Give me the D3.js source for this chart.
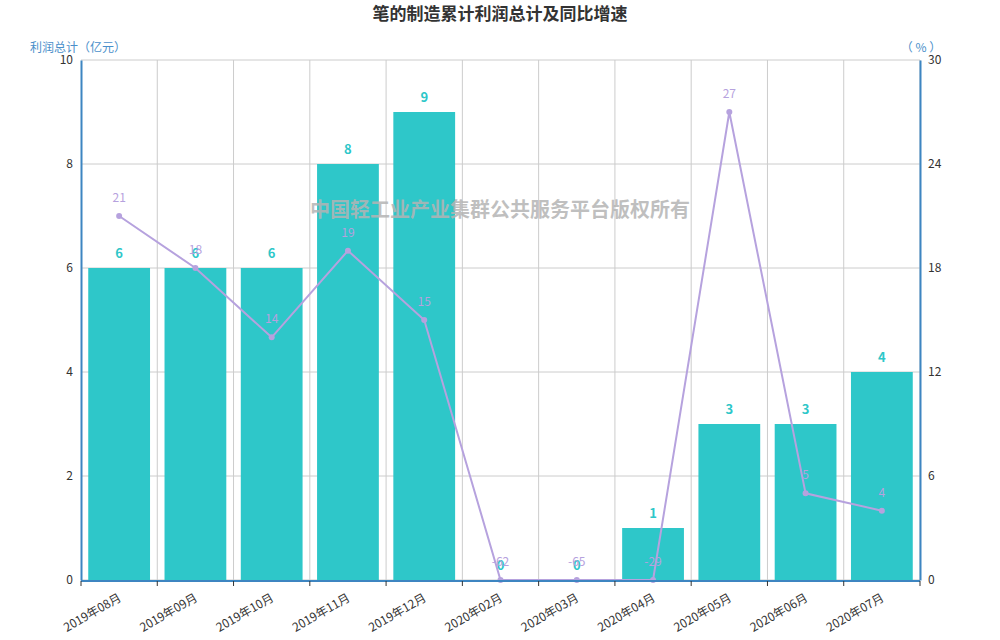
<!DOCTYPE html>
<html lang="zh">
<head>
<meta charset="UTF-8">
<title>笔的制造累计利润总计及同比增速</title>
<script src="https://d3js.org/d3.v7.min.js"></script>
<style>
    body { margin: 0; background: #fff; font-family: "Noto Sans CJK SC", "DejaVu Sans", sans-serif; }
    svg text { font-family: "Noto Sans CJK SC", "DejaVu Sans", sans-serif; }
</style>
</head>
<body>
<div id="chart"></div>
<script>
    const months = ["2019年08月", "2019年09月", "2019年10月", "2019年11月", "2019年12月",
        "2020年02月", "2020年03月", "2020年04月", "2020年05月", "2020年06月", "2020年07月"];
    const profit = [6, 6, 6, 8, 9, 0, 0, 1, 3, 3, 4];
    const growth = [21, 18, 14, 19, 15, -62, -65, -29, 27, 5, 4];
    const leftTicks = [0, 2, 4, 6, 8, 10];
    const rightTicks = [0, 6, 12, 18, 24, 30];

    const width = 1000, height = 640;
    const margin = {top: 60, right: 80, bottom: 60, left: 81};
    const axisBlue = "#3d85c1";
    const barColor = "#2ec7c9";
    const lineColor = "#b6a2de";

    const svg = d3.select("#chart").append("svg")
        .attr("width", width).attr("height", height);

    const x = d3.scaleBand().domain(months)
        .range([margin.left, width - margin.right])
        .paddingInner(0.19).paddingOuter(0.095);
    const xBand = d3.scaleBand().domain(months)
        .range([margin.left, width - margin.right]);
    const yL = d3.scaleLinear().domain([0, 10]).range([height - margin.bottom, margin.top]);
    const yR = d3.scaleLinear().domain([0, 30]).range([height - margin.bottom, margin.top]).clamp(true);

    // grid
    svg.append("g").selectAll("line").data(leftTicks).join("line")
        .attr("x1", margin.left).attr("x2", width - margin.right)
        .attr("y1", d => yL(d)).attr("y2", d => yL(d))
        .attr("stroke", "#ccc");
    svg.append("g").selectAll("line").data(months).join("line")
        .attr("x1", d => xBand(d) + xBand.bandwidth()).attr("x2", d => xBand(d) + xBand.bandwidth())
        .attr("y1", margin.top).attr("y2", height - margin.bottom)
        .attr("stroke", "#ccc");

    // bars
    svg.append("g").selectAll("rect").data(profit).join("rect")
        .attr("x", (d, i) => x(months[i]))
        .attr("width", x.bandwidth())
        .attr("y", d => yL(d))
        .attr("height", d => yL(0) - yL(d))
        .attr("fill", barColor);

    svg.append("g").selectAll("text").data(profit).join("text")
        .attr("x", (d, i) => xBand(months[i]) + xBand.bandwidth() / 2)
        .attr("y", d => yL(d) - 10)
        .attr("text-anchor", "middle")
        .attr("font-size", 13).attr("font-weight", "bold")
        .attr("font-family", "'DejaVu Sans', sans-serif")
        .attr("fill", barColor)
        .text(d => d);

    // line
    const line = d3.line()
        .x((d, i) => xBand(months[i]) + xBand.bandwidth() / 2)
        .y(d => yR(d));
    svg.append("path").datum(growth)
        .attr("d", line)
        .attr("fill", "none")
        .attr("stroke", lineColor).attr("stroke-width", 2);
    svg.append("g").selectAll("circle").data(growth).join("circle")
        .attr("cx", (d, i) => xBand(months[i]) + xBand.bandwidth() / 2)
        .attr("cy", d => yR(d))
        .attr("r", 3).attr("fill", lineColor);
    svg.append("g").selectAll("text").data(growth).join("text")
        .attr("x", (d, i) => xBand(months[i]) + xBand.bandwidth() / 2)
        .attr("y", d => yR(d) - 14)
        .attr("text-anchor", "middle")
        .attr("font-size", 12)
        .attr("font-family", "'Liberation Sans', Arial, sans-serif")
        .attr("fill", lineColor)
        .text(d => d);

    // axes
    const gL = svg.append("g").attr("transform", `translate(${margin.left},0)`)
        .call(d3.axisLeft(yL).tickValues(leftTicks).tickSize(0).tickPadding(8));
    const gR = svg.append("g").attr("transform", `translate(${width - margin.right},0)`)
        .call(d3.axisRight(yR).tickValues(rightTicks).tickSize(0).tickPadding(8));
    [gL, gR].forEach(g => {
        g.select(".domain").attr("stroke", axisBlue).attr("stroke-width", 2);
        g.selectAll("text").attr("fill", "#333").attr("font-size", 12)
            .attr("font-family", "'Liberation Sans', Arial, sans-serif");
    });

    const gX = svg.append("g").attr("transform", `translate(0,${height - margin.bottom + 1})`);
    gX.append("line")
        .attr("x1", margin.left).attr("x2", width - margin.right)
        .attr("stroke", axisBlue).attr("stroke-width", 2);
    gX.selectAll("line.tick").data([months[0]].concat(months)).join("line")
        .attr("class", "tick")
        .attr("x1", (d, i) => i === 0 ? xBand(d) : xBand(d) + xBand.bandwidth())
        .attr("x2", (d, i) => i === 0 ? xBand(d) : xBand(d) + xBand.bandwidth())
        .attr("y1", 0).attr("y2", 5)
        .attr("stroke", "#333");
    gX.selectAll("text").data(months).join("text")
        .attr("transform", d => `translate(${xBand(d) + xBand.bandwidth() / 2},14) rotate(-30)`)
        .attr("text-anchor", "end")
        .attr("dy", "0.5em")
        .attr("font-size", 12)
        .attr("fill", "#333")
        .text(d => d);

    // watermark (drawn over the marks)
    svg.append("text")
        .attr("x", 500).attr("y", 217)
        .attr("text-anchor", "middle")
        .attr("font-size", 20).attr("font-weight", "bold")
        .attr("fill", "#b4b4b4").attr("fill-opacity", 0.85)
        .text("中国轻工业产业集群公共服务平台版权所有");

    // axis names & title
    svg.append("text")
        .attr("x", 78).attr("y", 52)
        .attr("text-anchor", "middle")
        .attr("font-size", 12).attr("fill", "#4a8fca")
        .text("利润总计（亿元）");
    svg.append("text")
        .attr("x", 921).attr("y", 52)
        .attr("text-anchor", "middle")
        .attr("font-size", 12).attr("fill", "#4a8fca")
        .text("（ % ）");
    svg.append("text")
        .attr("x", 500).attr("y", 20)
        .attr("text-anchor", "middle")
        .attr("font-size", 17).attr("font-weight", "bold")
        .attr("fill", "#333")
        .text("笔的制造累计利润总计及同比增速");
</script>
</body>
</html>
